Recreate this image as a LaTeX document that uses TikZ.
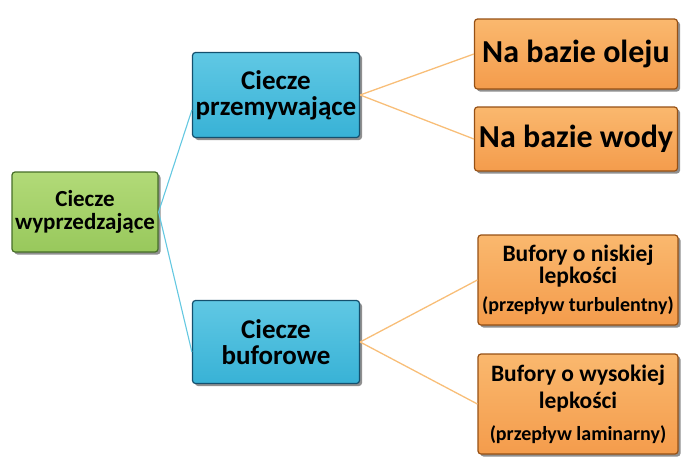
\documentclass[tikz,border=0pt]{standalone}
\usepackage{fontspec}
\setmainfont{Carlito}
\usetikzlibrary{shadows}
\definecolor{gfill}{RGB}{152,200,92}
\definecolor{gtop}{RGB}{178,218,120}
\definecolor{gdraw}{RGB}{70,110,40}
\definecolor{cfill}{RGB}{56,178,214}
\definecolor{ctop}{RGB}{96,200,228}
\definecolor{cdraw}{RGB}{20,80,110}
\definecolor{ofill}{RGB}{244,156,76}
\definecolor{otop}{RGB}{250,184,110}
\definecolor{odraw}{RGB}{150,80,20}
\definecolor{cline}{RGB}{100,200,225}
\definecolor{oline}{RGB}{248,190,120}
\tikzset{
  box/.style={rounded corners=3pt, line width=1.2pt, align=center, inner sep=1pt,
    font=\bfseries, text=black,
    drop shadow={shadow xshift=2.5pt, shadow yshift=-2.5pt, opacity=0.55, fill=black!80}},
  gbox/.style={box, draw=gdraw, top color=gtop, bottom color=gfill},
  cbox/.style={box, draw=cdraw, top color=ctop, bottom color=cfill},
  obox/.style={box, draw=odraw, top color=otop, bottom color=ofill},
  clink/.style={draw=cline, line width=1.1pt},
  olink/.style={draw=oline, line width=1.3pt},
}
\newcommand{\smallpar}[1]{{\fontsize{20}{20}\selectfont #1}}
\begin{document}
\begin{tikzpicture}[x=1pt,y=-1pt]
\useasboundingbox (0,0) rectangle (681,459);
\node[gbox, minimum width=146pt, minimum height=80pt, font=\bfseries\fontsize{23}{23}\selectfont] (root) at (85,212) {Ciecze\\wyprzedzające};
\node[cbox, minimum width=167pt, minimum height=85pt, font=\bfseries\fontsize{27}{26}\selectfont] (prz) at (276,95) {Ciecze\\przemywające};
\node[cbox, minimum width=167pt, minimum height=83pt, font=\bfseries\fontsize{27}{26}\selectfont] (buf) at (276,342) {Ciecze\\buforowe};
\node[obox, minimum width=203pt, minimum height=70pt, font=\bfseries\fontsize{32}{32}\selectfont] (olej) at (576,54) {Na bazie oleju};
\node[obox, minimum width=203pt, minimum height=64pt, font=\bfseries\fontsize{32}{32}\selectfont] (woda) at (576,139) {Na bazie wody};
\node[obox, minimum width=200pt, minimum height=90pt, font=\bfseries\fontsize{23.5}{22}\selectfont] (nis) at (578,280) {Bufory o niskiej\\lepkości\\[6pt]\smallpar{(przepływ turbulentny)}};
\node[obox, minimum width=200pt, minimum height=100pt, font=\bfseries\fontsize{23.5}{27}\selectfont] (wys) at (578,404) {Bufory o wysokiej\\lepkości\\[5pt]\smallpar{(przepływ laminarny)}};
\path[clink] (root.east) -- ([yshift=-15pt]prz.west);
\path[clink] (root.east) -- ([yshift=-10pt]buf.west);
\path[olink] (prz.east) -- (olej.west);
\path[olink] (prz.east) -- (woda.west);
\path[olink] (buf.east) -- (nis.west);
\path[olink] (buf.east) -- (wys.west);
\end{tikzpicture}
\end{document}
